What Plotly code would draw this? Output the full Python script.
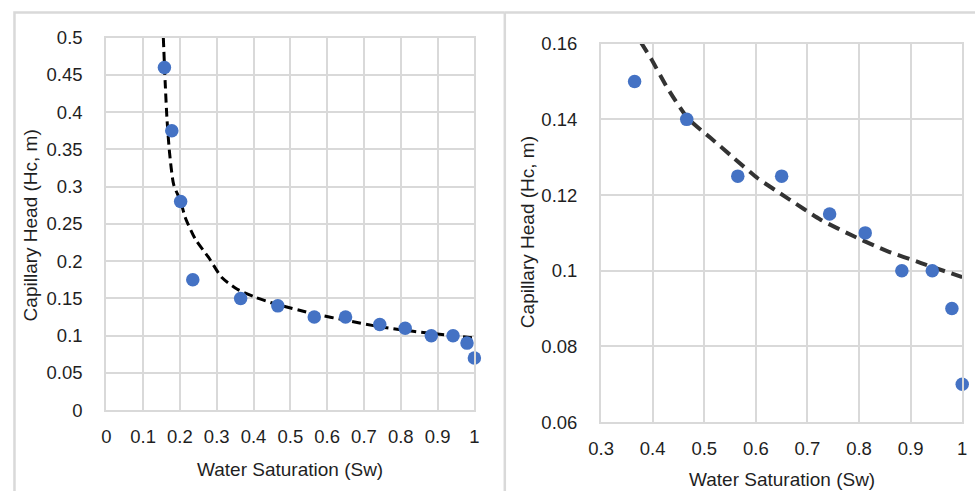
import plotly.graph_objects as go

# ---- data ----
sw = [0.158, 0.178, 0.202, 0.235, 0.365, 0.466, 0.565, 0.650, 0.743, 0.812, 0.883, 0.942, 0.980, 1.0]
hc = [0.46, 0.375, 0.28, 0.175, 0.15, 0.14, 0.125, 0.125, 0.115, 0.11, 0.10, 0.10, 0.09, 0.07]

left_trend_x = [0.155, 0.160, 0.165, 0.172, 0.183, 0.202, 0.215, 0.242, 0.278, 0.314, 0.355, 0.405,
                0.459, 0.567, 0.658, 0.739, 0.838, 1.0]
left_trend_y = [0.50, 0.44, 0.39, 0.345, 0.303, 0.28, 0.258, 0.2295, 0.205, 0.178, 0.1626, 0.1515,
                0.1426, 0.129, 0.120, 0.1123, 0.1056, 0.097]

right_trend_x = [0.377, 0.397, 0.429, 0.468, 0.513, 0.558, 0.603, 0.661, 0.7255, 0.790, 0.8546, 0.919, 1.0]
right_trend_y = [0.1604, 0.156, 0.1482, 0.1403, 0.135, 0.1297, 0.1245, 0.1192, 0.1135, 0.1091, 0.1052,
                 0.1021, 0.0983]

W, H = 980, 501
# compensate the page offset/scale seen in the rendered screenshot
AX, BX = 0.984, 10.5
AY, BY = 0.962, 9.2
def fx(px): return min(max(((px - BX) / AX) / W, 0), 1)
def fy(py): return min(max(1 - ((py - BY) / AY) / H, 0), 1)

MARKER = "#4472C4"
GRID = "#d9d9d9"
TXT = "#1f1f1f"
FONT = "Liberation Sans, Arial, sans-serif"

fig = go.Figure()

# left panel
fig.add_trace(go.Scatter(x=left_trend_x, y=left_trend_y, mode="lines", xaxis="x", yaxis="y",
                         line=dict(color="#000000", width=3, dash="9px,5px", shape="spline", smoothing=0.6),
                         hoverinfo="skip"))
fig.add_trace(go.Scatter(x=sw, y=hc, mode="markers", xaxis="x", yaxis="y", cliponaxis=False,
                         marker=dict(color=MARKER, size=13.5)))

# right panel
rx = [a for a in sw if a >= 0.3]
ry = [b for a, b in zip(sw, hc) if a >= 0.3]
fig.add_trace(go.Scatter(x=right_trend_x, y=right_trend_y, mode="lines", xaxis="x2", yaxis="y2",
                         line=dict(color="#333333", width=4, dash="12px,7px", shape="spline", smoothing=0.6),
                         hoverinfo="skip"))
fig.add_trace(go.Scatter(x=rx, y=ry, mode="markers", xaxis="x2", yaxis="y2", cliponaxis=False,
                         marker=dict(color=MARKER, size=13.5)))

axcommon = dict(showgrid=True, gridcolor=GRID, gridwidth=2, showline=True, linecolor=GRID, linewidth=2,
                mirror=True, zeroline=False, ticks="", tickfont=dict(family=FONT, size=18.5, color=TXT),
                fixedrange=True)

fig.update_layout(
    width=W, height=H, margin=dict(l=0, r=0, t=0, b=0),
    paper_bgcolor="white", plot_bgcolor="white", showlegend=False,
    xaxis=dict(domain=[fx(104), fx(473)], range=[0, 1], dtick=0.1, tick0=0, anchor="y",
               ticklabelstandoff=9, **axcommon),
    yaxis=dict(domain=[fy(410), fy(36)], range=[0, 0.5], dtick=0.05, tick0=0, anchor="x",
               ticklabelstandoff=18, **axcommon),
    xaxis2=dict(domain=[fx(600), fx(962)], range=[0.3, 1], dtick=0.1, tick0=0.3, anchor="y2",
                ticklabelstandoff=9, **axcommon),
    yaxis2=dict(domain=[fy(422), fy(42)], range=[0.06, 0.16], dtick=0.02, tick0=0.06, anchor="x2",
                ticklabelstandoff=18, **axcommon),
)

tfont = dict(family=FONT, size=19, color=TXT)
ann = [
    dict(text="Water Saturation (Sw)", x=fx(288), y=fy(470)),
    dict(text="Water Saturation (Sw)", x=fx(781), y=fy(480)),
    dict(text="Capillary Head (Hc, m)", x=fx(28), y=fy(224), textangle=-90),
    dict(text="Capillary Head (Hc, m)", x=fx(527), y=fy(231), textangle=-90),
]
for a in ann:
    fig.add_annotation(xref="paper", yref="paper", showarrow=False, xanchor="center", yanchor="middle",
                       font=tfont, **a)

# panel frames
fc = dict(color=GRID, width=2.5)
x_l = max(fx(8.5), 1.5 / W)
y_t = min(fy(10.5), 1 - 1.5 / H)
y_t2 = min(fy(8), 1 - 1.5 / H)
fig.add_shape(type="path", xref="paper", yref="paper",
              path=f"M {x_l} 0 L {x_l} {y_t} L {fx(503.5)} {y_t}", line=fc)
fig.add_shape(type="line", xref="paper", yref="paper", x0=fx(503.5), x1=fx(503.5), y0=y_t2, y1=0, line=fc)
fig.add_shape(type="line", xref="paper", yref="paper", x0=fx(503.5), x1=1, y0=y_t2, y1=y_t2, line=fc)

fig.write_html("out.html")
